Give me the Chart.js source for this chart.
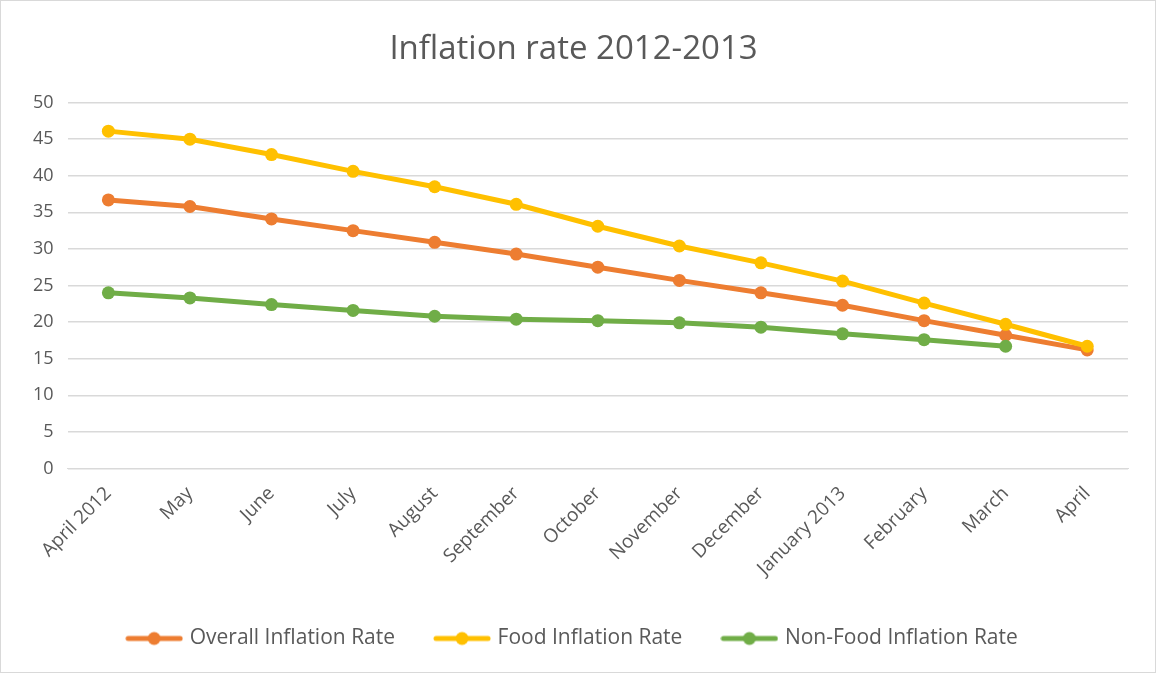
<!DOCTYPE html>
<html>
<head>
    <title>Inflation rate 2012-2013</title>
    <script src="https://cdn.jsdelivr.net/npm/chart.js"></script>
    <style>
        html, body { margin: 0; padding: 0; background: #fff; }
        .box { position: absolute; left: 0; top: 0; width: 1154px; height: 671px; border: 1px solid #d9d9d9; }
    </style>
</head>
<body>
<div class="box">
    <canvas id="inflationChart" width="1154" height="671"></canvas>
</div>
<script>
    // data
    const months = ['April 2012', 'May', 'June', 'July', 'August', 'September', 'October',
        'November', 'December', 'January 2013', 'February', 'March', 'April'];
    const overallRate = [36.7, 35.8, 34.1, 32.5, 30.9, 29.3, 27.5, 25.7, 24.0, 22.3, 20.2, 18.2, 16.2];
    const foodRate = [46.1, 45.0, 42.9, 40.6, 38.5, 36.1, 33.1, 30.4, 28.1, 25.6, 22.6, 19.7, 16.7];
    const nonFoodRate = [24.0, 23.3, 22.4, 21.6, 20.8, 20.4, 20.2, 19.9, 19.3, 18.4, 17.6, 16.7, null];

    const textColor = '#595959';
    const fontFamily = "'Open Sans', 'Noto Sans', sans-serif";

    // little line-with-dot swatch for the legend
    function swatch(color) {
        let c = document.createElement('canvas');
        c.width = 58;
        c.height = 16;
        let g = c.getContext('2d');
        g.strokeStyle = color;
        g.lineWidth = 5;
        g.lineCap = 'round';
        g.beginPath();
        g.moveTo(3, 8);
        g.lineTo(55, 8);
        g.stroke();
        g.fillStyle = color;
        g.beginPath();
        g.arc(29, 8, 6.5, 0, Math.PI * 2);
        g.fill();
        return c;
    }

    function series(label, data, color, order) {
        return {
            label: label,
            data: data,
            borderColor: color,
            backgroundColor: color,
            borderWidth: 5,
            pointRadius: 6.5,
            pointHoverRadius: 7,
            pointBorderWidth: 0,
            tension: 0,
            order: order
        };
    }

    new Chart(document.getElementById('inflationChart'), {
        type: 'line',
        data: {
            labels: months,
            datasets: [
                series('Overall Inflation Rate', overallRate, '#ed7d31', 2),
                series('Food Inflation Rate', foodRate, '#ffc000', 1),
                series('Non-Food Inflation Rate', nonFoodRate, '#70ad47', 0)
            ]
        },
        options: {
            responsive: false,
            animation: false,
            layout: { padding: { left: 18, right: 27, top: 10, bottom: 13 } },
            plugins: {
                title: {
                    display: true,
                    text: 'Inflation rate 2012-2013',
                    color: textColor,
                    font: { family: fontFamily, size: 33, weight: 'normal' },
                    padding: { top: 19, bottom: 33 }
                },
                legend: {
                    position: 'bottom',
                    labels: {
                        color: textColor,
                        font: { family: fontFamily, size: 21 },
                        usePointStyle: true,
                        pointStyleWidth: 50,
                        padding: 42,
                        boxHeight: 16,
                        generateLabels: chart => chart.data.datasets.map((ds, i) => ({
                            text: ds.label,
                            pointStyle: swatch(ds.borderColor),
                            fontColor: textColor,
                            datasetIndex: i,
                            hidden: !chart.isDatasetVisible(i)
                        }))
                    }
                },
                tooltip: { enabled: true }
            },
            scales: {
                x: {
                    offset: true,
                    grid: { display: false },
                    border: { color: '#d9d9d9' },
                    ticks: {
                        color: textColor,
                        font: { family: fontFamily, size: 19 },
                        maxRotation: 45,
                        minRotation: 45,
                        autoSkip: false,
                        padding: 6
                    }
                },
                y: {
                    min: 0,
                    max: 50,
                    grid: { color: '#d9d9d9', lineWidth: 1.5, drawTicks: false },
                    border: { display: false },
                    ticks: {
                        stepSize: 5,
                        color: textColor,
                        font: { family: fontFamily, size: 18 },
                        padding: 14
                    }
                }
            }
        }
    });
</script>
</body>
</html>
